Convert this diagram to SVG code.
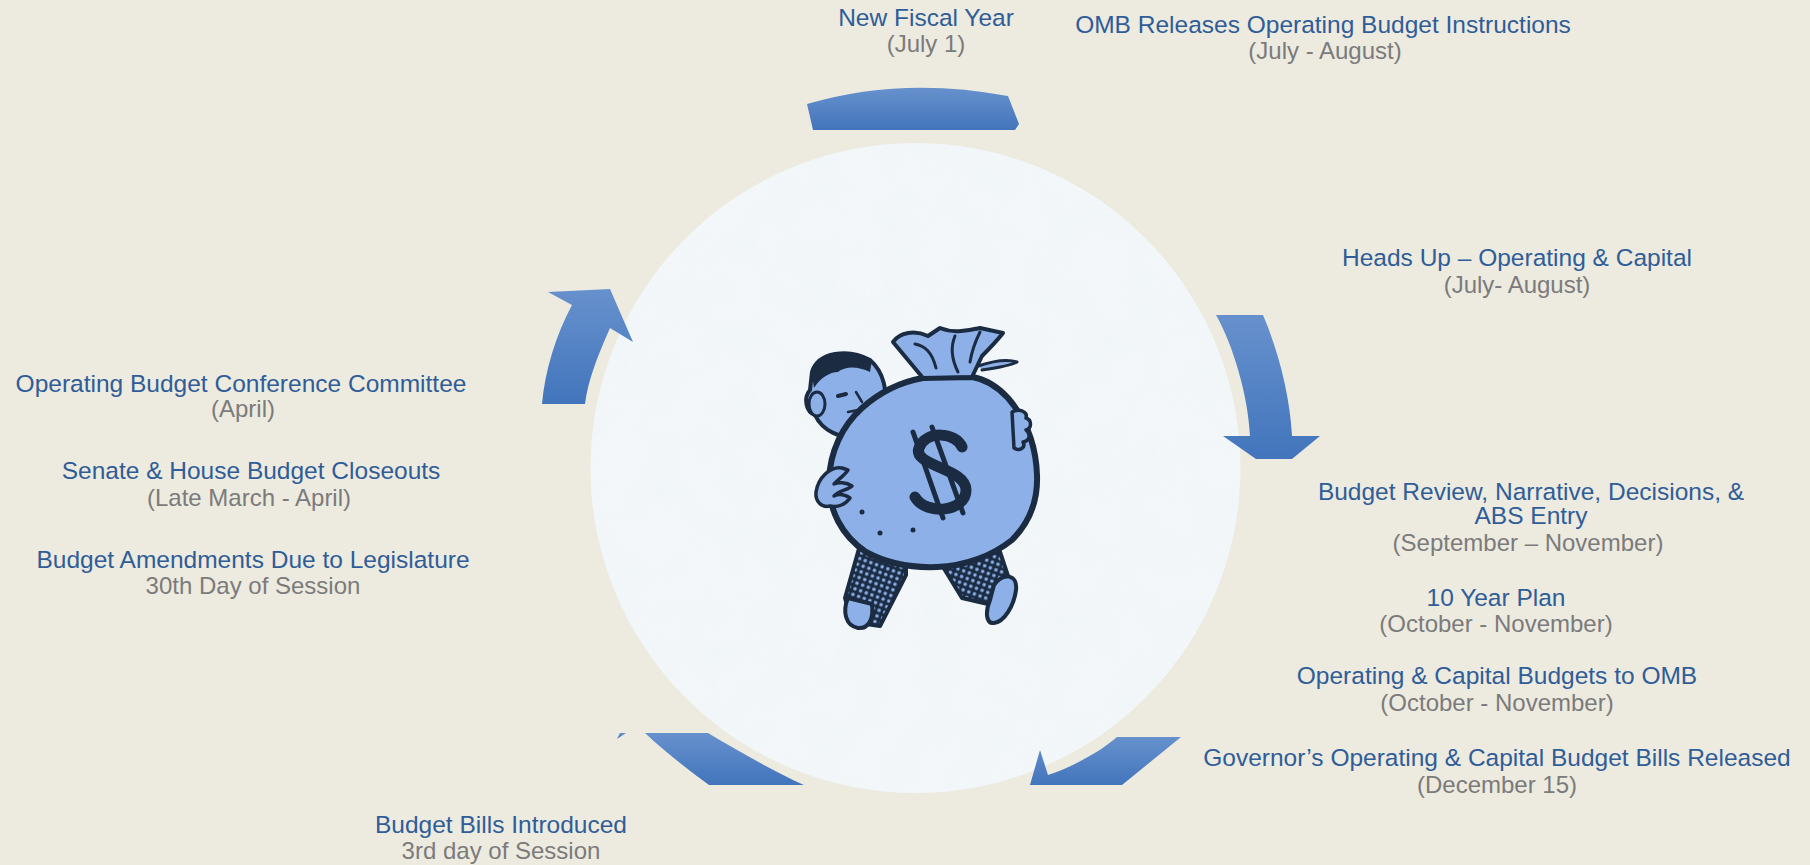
<svg xmlns="http://www.w3.org/2000/svg" width="1810" height="865" viewBox="0 0 1810 865">
<defs>
<style>
.t{font-family:"Liberation Sans",Arial,sans-serif;font-size:24.5px;fill:#2F5D98;text-anchor:middle}
.s{font-family:"Liberation Sans",Arial,sans-serif;font-size:24px;fill:#7B7B7B;text-anchor:middle}
.arr{fill:url(#ag)}
.ink{stroke:#1A2B42;stroke-linejoin:round;stroke-linecap:round}
.lb{fill:#8DB0E8}
</style>
<linearGradient id="ag" x1="0" y1="0" x2="0" y2="1">
<stop offset="0" stop-color="#6791CD"/>
<stop offset="1" stop-color="#4275BC"/>
</linearGradient>
<pattern id="check" width="6" height="6" patternUnits="userSpaceOnUse" patternTransform="rotate(20)">
<rect width="6" height="6" fill="#1A2B42"/>
<rect x="1.2" y="1.2" width="3.2" height="3.2" rx="1" fill="#8DB0E8"/>
</pattern>
<filter id="tex" x="0" y="0" width="1" height="1">
<feTurbulence type="fractalNoise" baseFrequency="0.025" numOctaves="3" seed="4"/>
<feColorMatrix type="matrix" values="0 0 0 0 0.80  0 0 0 0 0.86  0 0 0 0 0.90  0 0 0 0.5 -0.12"/>
<feComposite in2="SourceGraphic" operator="in"/>
</filter>
</defs>
<rect width="1810" height="865" fill="#EDEAE0"/>

<g id="center">
<circle cx="915.5" cy="468" r="325" fill="#F3F7F9"/>
<circle cx="915.5" cy="468" r="325" fill="#fff" filter="url(#tex)" opacity="0.6"/>
</g>

<g id="connectors">
<path class="arr" d="M807,104 Q902,76 1008,96 L1019,124 L1015,130 L813,130 Z"/>
<path class="arr" d="M1216,315 L1263,315 C1278,350 1290,395 1292,436 L1320,436 L1292,459 L1256,459 L1223,436 L1250,436 C1248,395 1233,345 1216,315 Z"/>
<path class="arr" d="M1117,737 L1181,737 L1122,785 L1030,785 L1040,750 L1048,775 C1070,768 1100,752 1117,737 Z"/>
<path class="arr" d="M645,733 L708,733 C740,752 775,772 804,785 L709,785 C690,771 665,752 645,733 Z"/>
<path class="arr" d="M617,739 L620,733 L626,733 Z"/>
<path class="arr" d="M542,404 C545,370 556,335 572,305 L548,292 L610,289 L633,342 L610,328 C598,355 588,380 585,404 Z"/>
</g>

<g id="moneybag">
<path class="ink" d="M860,545 L845,598 L852,622 L880,626 L906,575 L906,558 Z" fill="url(#check)" stroke-width="4"/>
<path class="ink" d="M940,562 L1000,552 L1012,588 L988,604 L962,598 Z" fill="url(#check)" stroke-width="4"/>
<path class="ink lb" d="M848,598 C842,612 846,626 858,628 C868,629 874,620 872,604 Z" stroke-width="4"/>
<path class="ink lb" d="M994,585 C1003,572 1018,574 1016,590 C1014,606 1004,622 994,623 C986,624 985,612 990,600 Z" stroke-width="4"/>
<path class="ink lb" d="M812,372 C818,352 848,348 870,360 C884,372 888,392 884,410 L860,436 C840,440 822,430 815,415 C806,412 803,398 810,390 Z" stroke-width="4"/>
<path d="M812,375 C818,352 850,346 872,360 L870,372 C858,366 845,366 838,372 C830,372 820,378 814,388 Z" fill="#1A2B42"/>
<ellipse class="ink" cx="817" cy="404" rx="8" ry="12" fill="#8DB0E8" stroke-width="3"/>
<path class="ink" d="M838,396 L846,394" stroke-width="4" fill="none"/>
<path class="ink" d="M856,392 L862,402 M848,412 L858,410" stroke-width="2.5" fill="none"/>
<path class="ink lb" d="M923,378 C900,382 880,392 862,408 C842,426 830,452 829,480 C828,510 842,536 866,552 C888,564 912,568 937,567 C965,566 992,556 1012,540 C1030,522 1038,500 1037,475 C1036,445 1025,418 1008,398 C996,385 985,379 972,377 Z" stroke-width="6"/>
<path class="ink lb" d="M923,378 L893,342 C900,332 915,330 928,336 L940,328 C955,334 968,330 980,328 L1003,333 C996,342 988,350 982,356 L972,377 Z" stroke-width="4"/>
<path class="ink" d="M923,378 L972,377 M915,344 C925,346 932,352 936,368 M955,336 C950,348 952,360 958,372 M980,332 C975,342 972,350 970,362" stroke-width="3" fill="none"/>
<path class="ink" d="M978,366 C990,362 1005,358 1017,362 C1010,366 996,368 982,370" stroke-width="3" fill="#8DB0E8"/>
<path class="ink" d="M962,447 C956,432 926,430 919,448 C912,466 966,468 966,490 C966,512 926,516 915,497" stroke-width="11" fill="none"/>
<path class="ink" d="M913,432 L943,518 M932,427 L963,513" stroke-width="5" fill="none"/>
<circle cx="862" cy="512" r="2.5" fill="#1A2B42"/>
<circle cx="880" cy="533" r="2.5" fill="#1A2B42"/>
<circle cx="913" cy="530" r="2.5" fill="#1A2B42"/>
<path class="ink lb" d="M1012,412 C1020,408 1028,412 1026,418 C1032,420 1032,428 1026,430 C1031,434 1030,441 1023,442 C1026,447 1020,452 1014,448 Z" stroke-width="3.5"/>
<path class="ink lb" d="M842,468 C830,466 818,478 816,492 C815,502 822,508 830,506 C838,508 846,504 850,498 C844,494 838,494 834,496 C840,490 848,490 852,486 C846,482 838,482 834,484 C840,478 846,474 848,470 Z" stroke-width="3.5"/>
</g>

<g id="n-new-fiscal-year"><text class="t" x="926" y="26">New Fiscal Year</text><text class="s" x="926" y="52">(July 1)</text></g>
<g id="n-omb"><text class="t" x="1323" y="33">OMB Releases Operating Budget Instructions</text><text class="s" x="1325" y="59">(July - August)</text></g>
<g id="n-heads-up"><text class="t" x="1517" y="266">Heads Up – Operating &amp; Capital</text><text class="s" x="1517" y="293">(July- August)</text></g>
<g id="n-budget-review"><text class="t" x="1531" y="500">Budget Review, Narrative, Decisions, &amp;</text><text class="t" x="1531" y="524">ABS Entry</text><text class="s" x="1528" y="551" font-size="23">(September – November)</text></g>
<g id="n-10-year"><text class="t" x="1496" y="606">10 Year Plan</text><text class="s" x="1496" y="632">(October - November)</text></g>
<g id="n-to-omb"><text class="t" x="1497" y="684">Operating &amp; Capital Budgets to OMB</text><text class="s" x="1497" y="711">(October - November)</text></g>
<g id="n-governor"><text class="t" x="1497" y="766">Governor’s Operating &amp; Capital Budget Bills Released</text><text class="s" x="1497" y="793">(December 15)</text></g>
<g id="n-bills-introduced"><text class="t" x="501" y="833">Budget Bills Introduced</text><text class="s" x="501" y="859">3rd day of Session</text></g>
<g id="n-conference"><text class="t" x="241" y="392">Operating Budget Conference Committee</text><text class="s" x="243" y="417">(April)</text></g>
<g id="n-closeouts"><text class="t" x="251" y="479">Senate &amp; House Budget Closeouts</text><text class="s" x="249" y="506">(Late March - April)</text></g>
<g id="n-amendments"><text class="t" x="253" y="568">Budget Amendments Due to Legislature</text><text class="s" x="253" y="594">30th Day of Session</text></g>
</svg>
